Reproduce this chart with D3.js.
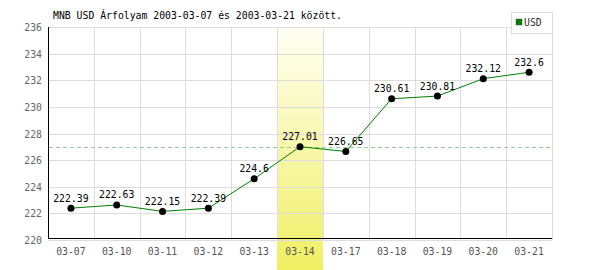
<!DOCTYPE html>
<html><head><meta charset="utf-8">
<script src="https://cdn.jsdelivr.net/npm/d3@7"></script>
<style>body{margin:0;background:#fff}svg{display:block}text{font-family:"DejaVu Sans Mono",monospace}</style>
</head><body>
<script>
const dates = ["03-07","03-10","03-11","03-12","03-13","03-14","03-17","03-18","03-19","03-20","03-21"];
const values = [222.39,222.63,222.15,222.39,224.6,227.01,226.65,230.61,230.81,232.12,232.6];
const yTicks = [220,222,224,226,228,230,232,234,236];
const highlightDate = "03-14";
const title = "MNB USD Árfolyam 2003-03-07 és 2003-03-21 között.";
const seriesName = "USD";

const W=600,H=270, L=48, R=552, T=27, B=240;
const svg=d3.select("body").append("svg").attr("width",W).attr("height",H);
const x=d3.scaleBand().domain(dates).range([L,R]);
const y=d3.scaleLinear().domain([220,236]).range([B,T]);

const defs=svg.append("defs");
const g=defs.append("linearGradient").attr("id","hl").attr("x1",0).attr("y1",0).attr("x2",0).attr("y2",1);
g.append("stop").attr("offset","0%").attr("stop-color","#fffff4");
g.append("stop").attr("offset","100%").attr("stop-color","#f0ef62");

// highlight band
svg.append("rect").attr("x",x(highlightDate)).attr("y",T).attr("width",x.bandwidth()).attr("height",H-T).attr("fill","url(#hl)");

// grid
svg.append("g").selectAll("line").data(yTicks).join("line")
  .attr("x1",L).attr("x2",R).attr("y1",d=>Math.round(y(d))+0.5).attr("y2",d=>Math.round(y(d))+0.5)
  .attr("stroke","#dddddd");
svg.append("g").selectAll("line").data(dates.slice(1).concat(["end"])).join("line")
  .attr("x1",d=>Math.round(d==="end"?R:x(d))+0.5).attr("x2",d=>Math.round(d==="end"?R:x(d))+0.5)
  .attr("y1",T).attr("y2",B).attr("stroke","#dddddd");

// axes lines
svg.append("line").attr("x1",L+0.5).attr("x2",L+0.5).attr("y1",T).attr("y2",B-2).attr("stroke","#000");
svg.append("line").attr("x1",L).attr("x2",R).attr("y1",B-1.5).attr("y2",B-1.5).attr("stroke","#000");

// y labels
svg.append("g").selectAll("text").data(yTicks).join("text")
  .attr("x",42).attr("y",d=>y(d)+4).attr("text-anchor","end")
  .attr("font-size","9.8px").attr("fill","#666").text(d=>d);
// x labels
svg.append("g").selectAll("text").data(dates).join("text")
  .attr("x",d=>x(d)+x.bandwidth()/2).attr("y",B+15).attr("text-anchor","middle")
  .attr("font-size","9.8px").attr("fill","#555").text(d=>d);

// dashed reference line at highlighted value
const hv=values[dates.indexOf(highlightDate)];
svg.append("line").attr("x1",L+1).attr("x2",R).attr("y1",Math.round(y(hv))+0.5).attr("y2",Math.round(y(hv))+0.5)
  .attr("stroke","#99cc99").attr("stroke-dasharray","4,3");

const pts=dates.map((d,i)=>({d,v:values[i]}));
svg.append("path").datum(pts).attr("fill","none").attr("stroke","#008000").attr("stroke-width",1)
  .attr("d",d3.line().x(p=>x(p.d)+x.bandwidth()/2).y(p=>y(p.v)));
svg.append("g").selectAll("circle").data(pts).join("circle")
  .attr("cx",p=>x(p.d)+x.bandwidth()/2).attr("cy",p=>y(p.v)).attr("r",3.5).attr("fill","#000");
svg.append("g").selectAll("text").data(pts).join("text")
  .attr("x",p=>x(p.d)+x.bandwidth()/2).attr("y",p=>y(p.v)-6.5).attr("text-anchor","middle")
  .attr("font-size","9.8px").attr("fill","#000").text(p=>p.v);

// title
svg.append("text").attr("x",53).attr("y",19).attr("font-size","9.8px").attr("fill","#000").text(title);

// legend
svg.append("rect").attr("x",511.5).attr("y",12.5).attr("width",41).attr("height",21).attr("fill","#fff").attr("stroke","#dddddd");
svg.append("rect").attr("x",516).attr("y",19).attr("width",6).attr("height",6).attr("fill","#008000").attr("stroke","#555").attr("stroke-width",0.5);
svg.append("text").attr("x",524).attr("y",25.5).attr("font-size","9.8px").attr("fill","#333").text(seriesName);
</script>
</body></html>
